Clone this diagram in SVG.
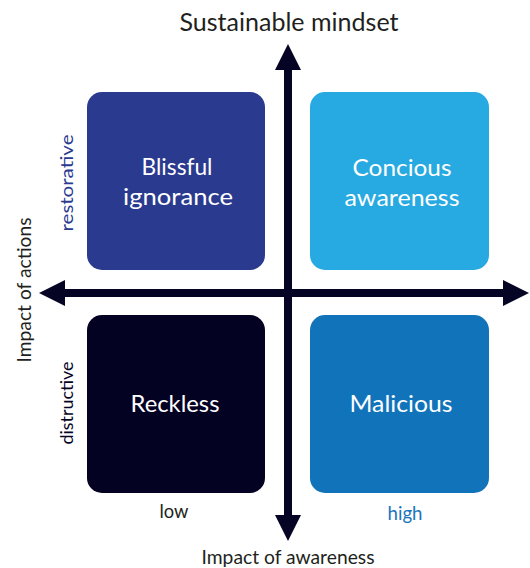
<svg xmlns="http://www.w3.org/2000/svg" width="530" height="568" viewBox="0 0 530 568">
<style>
.box{stroke:none}
.lbl{font-family:Lato,"Liberation Sans",sans-serif;font-size:23px;fill:#ffffff;text-anchor:middle}
.axis{stroke:#050425;stroke-width:8;fill:none}
.title{font-family:Lato,"Liberation Sans",sans-serif;fill:#231f20;text-anchor:middle}
.side{font-family:Lato,"Liberation Sans",sans-serif;font-size:17px;text-anchor:middle}
</style>
<defs>
<marker id="head" viewBox="0 0 26 26" markerWidth="26" markerHeight="26" refX="0" refY="13" markerUnits="userSpaceOnUse" orient="auto-start-reverse">
<path d="M0,0 L26,13 L0,26 z" fill="#050425"/>
</marker>
</defs>
<rect width="530" height="568" fill="#ffffff"/>
<g id="blissful">
<rect class="box" x="87" y="92" width="178" height="178" rx="15" fill="#2a3a8f"/>
<text class="lbl" x="177" y="175" textLength="71" lengthAdjust="spacingAndGlyphs">Blissful</text>
<text class="lbl" x="178" y="205" textLength="110" lengthAdjust="spacingAndGlyphs">ignorance</text>
</g>
<g id="concious">
<rect class="box" x="310" y="92" width="179" height="178" rx="15" fill="#27a9e1"/>
<text class="lbl" x="402" y="176" textLength="99" lengthAdjust="spacingAndGlyphs">Concious</text>
<text class="lbl" x="402" y="206" textLength="115" lengthAdjust="spacingAndGlyphs">awareness</text>
</g>
<g id="reckless">
<rect class="box" x="87" y="315" width="178" height="178" rx="15" fill="#040223"/>
<text class="lbl" x="175" y="412" textLength="89" lengthAdjust="spacingAndGlyphs">Reckless</text>
</g>
<g id="malicious">
<rect class="box" x="310" y="315" width="179" height="178" rx="15" fill="#1174bb"/>
<text class="lbl" x="401" y="412" textLength="103" lengthAdjust="spacingAndGlyphs">Malicious</text>
</g>
<g id="connectors">
<line class="axis" x1="288" y1="515" x2="288" y2="70" marker-start="url(#head)" marker-end="url(#head)"/>
<line class="axis" x1="65" y1="293" x2="503" y2="293" marker-start="url(#head)" marker-end="url(#head)"/>
</g>
<g id="labels">
<text class="title" x="289" y="31" font-size="25" textLength="219" lengthAdjust="spacingAndGlyphs">Sustainable mindset</text>
<text class="title" x="288" y="564" font-size="20" textLength="173" lengthAdjust="spacingAndGlyphs">Impact of awareness</text>
<text class="title" x="174" y="518" font-size="20" fill="#050425" textLength="29" lengthAdjust="spacingAndGlyphs">low</text>
<text class="title" x="405" y="520" font-size="20" style="fill:#1a75bc" textLength="35" lengthAdjust="spacingAndGlyphs">high</text>
<text class="title" font-size="20" transform="translate(31,290) rotate(-90)" textLength="145" lengthAdjust="spacingAndGlyphs">Impact of actions</text>
<text class="side" fill="#2a3a8f" transform="translate(73,183) rotate(-90)" textLength="97" lengthAdjust="spacingAndGlyphs">restorative</text>
<text class="side" fill="#050425" transform="translate(73,403) rotate(-90)" textLength="83" lengthAdjust="spacingAndGlyphs">distructive</text>
</g>
</svg>
